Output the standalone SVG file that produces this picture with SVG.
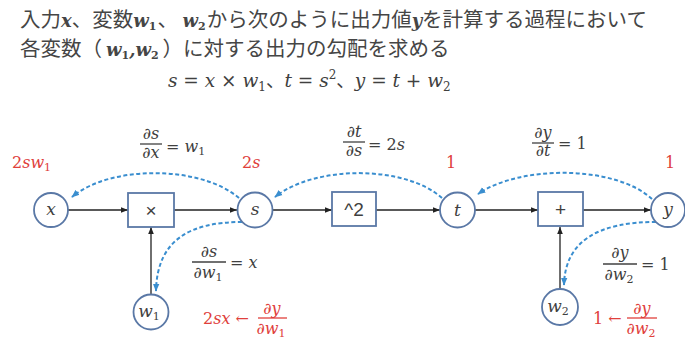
<svg xmlns="http://www.w3.org/2000/svg" width="685" height="350" viewBox="0 0 685 350">
<defs>
<style>
.jp{font-family:"Noto Sans CJK JP","Noto Sans",sans-serif;font-size:20.5px;fill:#454545}
.mb{font-family:"DejaVu Serif",serif;font-style:italic;font-weight:bold;font-size:18px}
.m{font-family:"DejaVu Serif",serif;font-style:italic;fill:#404040}
.lbl{font-family:"DejaVu Serif",serif;font-style:italic;font-size:16px;fill:#404040}
.red{fill:#e0403c}
.sub{font-size:11px}
.d{font-style:normal}
.node{fill:#fff;stroke:#5a78a6;stroke-width:1.8}
.nt{font-family:"DejaVu Serif",serif;font-style:italic;font-size:17px;fill:#404040;text-anchor:middle}
.op{font-family:"Liberation Sans",sans-serif;font-size:19px;fill:#404040;text-anchor:middle}
.flow{stroke:#222;stroke-width:1.3;fill:none;marker-end:url(#ab)}
.grad{stroke:#3a8ecf;stroke-width:2;stroke-dasharray:4 2.5;fill:none;marker-end:url(#abl)}
.bar{stroke:#404040;stroke-width:1.3}
.barr{stroke:#e0403c;stroke-width:1.3}
</style>
<marker id="ab" viewBox="0 0 10 10" refX="10" refY="5" markerWidth="7" markerHeight="7" markerUnits="userSpaceOnUse" orient="auto"><path d="M0 1 L10 5 L0 9 Z" fill="#222"/></marker>
<marker id="abl" viewBox="0 0 10 10" refX="9" refY="5" markerWidth="8" markerHeight="8" markerUnits="userSpaceOnUse" orient="auto"><path d="M0 1 L10 5 L0 9 Z" fill="#3a8ecf"/></marker>
</defs>
<rect width="685" height="350" fill="#fff"/>

<g id="header">
<text class="jp" x="20" y="27">入力<tspan class="mb">x</tspan>、変数<tspan class="mb">w</tspan><tspan class="mb sub d" dy="3">1</tspan><tspan dy="-3" dx="1">、 </tspan><tspan class="mb">w</tspan><tspan class="mb sub d" dy="3">2</tspan><tspan dy="-3" dx="1">から次のように出力値</tspan><tspan class="mb">y</tspan>を計算する過程において</text>
<text class="jp" x="20" y="56">各変数（<tspan class="mb" dx="4">w</tspan><tspan class="mb sub d" dy="3">1</tspan><tspan class="mb" dy="-3">,</tspan><tspan class="mb">w</tspan><tspan class="mb sub d" dy="3">2</tspan><tspan dy="-3" dx="4">）に対する出力の勾配を求める</tspan></text>
<text class="m" x="168" y="87" font-size="18.5">s = x × w<tspan class="d" font-size="12" dy="4">1</tspan><tspan dy="-4" style="font-family:'Noto Sans CJK JP',sans-serif;font-style:normal">、</tspan>t = s<tspan class="d" font-size="12" dy="-8">2</tspan><tspan dy="8" style="font-family:'Noto Sans CJK JP',sans-serif;font-style:normal">、</tspan>y = t + w<tspan class="d" font-size="12" dy="4">2</tspan></text>
</g>

<g id="connectors">
<line class="flow" x1="68" y1="210" x2="128" y2="210"/>
<line class="flow" x1="174" y1="210" x2="237" y2="210"/>
<line class="flow" x1="272" y1="210" x2="332" y2="210"/>
<line class="flow" x1="376" y1="210" x2="440" y2="210"/>
<line class="flow" x1="475" y1="210" x2="538" y2="210"/>
<line class="flow" x1="583" y1="210" x2="651" y2="210"/>
<line class="flow" x1="151" y1="295" x2="151" y2="227"/>
<line class="flow" x1="560" y1="290" x2="560" y2="227"/>
<path class="grad" d="M239 198 C200 165,110 165,72 197"/>
<path class="grad" d="M442 198 C405 165,315 165,275 197"/>
<path class="grad" d="M652 199 C615 165,520 165,478 194"/>
<path class="grad" d="M242 222 C190 222,157 240,156 291"/>
<path class="grad" d="M656 222 C600 222,565 240,564 285"/>
</g>

<g id="node-x"><circle class="node" cx="51" cy="210" r="17"/><text class="nt" x="51" y="215">x</text></g>
<g id="node-mul"><rect class="node" x="128" y="193" width="46" height="34"/><text class="op" x="151" y="217">×</text></g>
<g id="node-s"><circle class="node" cx="255" cy="210" r="17.5"/><text class="nt" x="255" y="215">s</text></g>
<g id="node-sq"><rect class="node" x="332" y="192" width="44" height="34"/><text class="op" x="354" y="216">^2</text></g>
<g id="node-t"><circle class="node" cx="457.5" cy="210" r="17.5"/><text class="nt" x="457.5" y="216">t</text></g>
<g id="node-add"><rect class="node" x="538" y="192" width="45" height="34"/><text class="op" x="560.5" y="216">+</text></g>
<g id="node-y"><circle class="node" cx="668" cy="210" r="17"/><text class="nt" x="668" y="215">y</text></g>
<g id="node-w1"><circle class="node" cx="151" cy="312" r="17.5"/><text class="nt" x="149" y="317" font-size="16">w<tspan class="d" font-size="11" dy="3">1</tspan></text></g>
<g id="node-w2"><circle class="node" cx="560" cy="307" r="18"/><text class="nt" x="558" y="312" font-size="16">w<tspan class="d" font-size="11" dy="3">2</tspan></text></g>

<g id="labels">
<text class="lbl" x="151" y="139" text-anchor="middle">∂s</text>
<line class="bar" x1="140" y1="144" x2="162" y2="144"/>
<text class="lbl" x="151" y="158" text-anchor="middle">∂x</text>
<text class="lbl" x="166" y="152">= w<tspan class="d" font-size="11" dy="3">1</tspan></text>

<text class="lbl red" x="12" y="168"><tspan class="d">2</tspan>sw<tspan class="d" font-size="11" dy="3">1</tspan></text>
<text class="lbl red" x="242" y="168"><tspan class="d">2</tspan>s</text>

<text class="lbl" x="354" y="137" text-anchor="middle">∂t</text>
<line class="bar" x1="343" y1="142" x2="365" y2="142"/>
<text class="lbl" x="354" y="156" text-anchor="middle">∂s</text>
<text class="lbl" x="368" y="150">= <tspan class="d">2</tspan>s</text>

<text class="lbl red d" x="446" y="168">1</text>
<text class="lbl red d" x="665" y="168">1</text>

<text class="lbl" x="543" y="138" text-anchor="middle">∂y</text>
<line class="bar" x1="532" y1="143" x2="554" y2="143"/>
<text class="lbl" x="543" y="156" text-anchor="middle">∂t</text>
<text class="lbl" x="558" y="149">= <tspan class="d">1</tspan></text>

<text class="lbl" x="209" y="257" text-anchor="middle">∂s</text>
<line class="bar" x1="192" y1="262" x2="226" y2="262"/>
<text class="lbl" x="208" y="278" text-anchor="middle">∂w<tspan class="d" font-size="11" dy="3">1</tspan></text>
<text class="lbl" x="230" y="268">= x</text>

<text class="lbl red" x="203" y="324"><tspan class="d">2</tspan>sx ←</text>
<text class="lbl red" x="272" y="314" text-anchor="middle">∂y</text>
<line class="barr" x1="258" y1="318" x2="287" y2="318"/>
<text class="lbl red" x="271" y="334" text-anchor="middle">∂w<tspan class="d" font-size="11" dy="3">1</tspan></text>

<text class="lbl" x="620" y="258" text-anchor="middle">∂y</text>
<line class="bar" x1="603" y1="264" x2="637" y2="264"/>
<text class="lbl" x="619" y="280" text-anchor="middle">∂w<tspan class="d" font-size="11" dy="3">2</tspan></text>
<text class="lbl" x="641" y="270">= <tspan class="d">1</tspan></text>

<text class="lbl red" x="593" y="324"><tspan class="d">1</tspan> ←</text>
<text class="lbl red" x="642" y="314" text-anchor="middle">∂y</text>
<line class="barr" x1="627" y1="318" x2="657" y2="318"/>
<text class="lbl red" x="641" y="334" text-anchor="middle">∂w<tspan class="d" font-size="11" dy="3">2</tspan></text>
</g>
</svg>
